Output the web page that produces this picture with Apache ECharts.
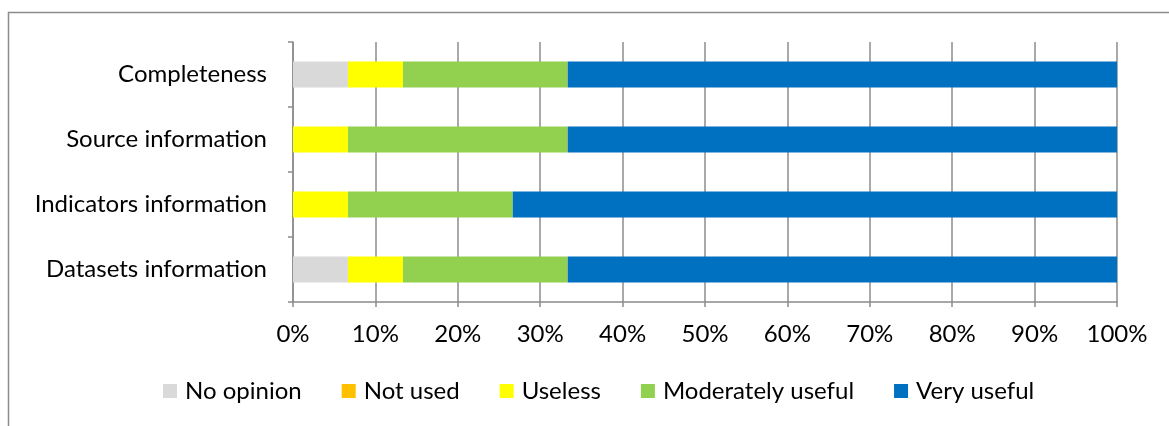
<!DOCTYPE html>
<html>
<head>
<meta charset="utf-8">
<script src="https://cdn.jsdelivr.net/npm/echarts@6/dist/echarts.min.js"></script>
<style>
  html, body { margin: 0; padding: 0; background: #fff; }
  #chart { width: 1169px; height: 426px; }
</style>
</head>
<body>
<div id="chart"></div>
<script>
// categories, bottom to top (category axis runs upward)
const categories = ['Datasets information', 'Indicators information', 'Source information', 'Completeness']

// shares in %, same order as categories
const noOpinion = [6.67, 0, 0, 6.67]
const notUsed = [0, 0, 0, 0]
const useless = [6.67, 6.67, 6.67, 6.67]
const moderatelyUseful = [20, 20, 26.67, 20]
const veryUseful = [66.67, 73.33, 66.67, 66.67]

const xTicks = [0, 10, 20, 30, 40, 50, 60, 70, 80, 90, 100]

const font = 'Lato'
const fontSize = 24
const axisGray = '#8c8c8c'

const mkSeries = (name, data, color) => ({
  name: name,
  type: 'bar',
  stack: 'total',
  data: data,
  barWidth: 26,
  itemStyle: { color: color },
  emphasis: { disabled: true }
})

const option = {
  animation: false,
  textStyle: { fontFamily: font },
  grid: {
    left: 293,
    right: 52,
    top: 42,
    bottom: 124
  },
  graphic: [
    {
      // outer frame of the chart (only left and top edges visible)
      type: 'rect',
      shape: { x: 8.5, y: 12.5, width: 1300, height: 600 },
      style: { fill: 'none', stroke: '#8c8c8c', lineWidth: 1.5 },
      silent: true
    }
  ],
  legend: {
    left: 158,
    top: 374,
    itemWidth: 14,
    itemHeight: 14,
    itemGap: 40,
    icon: 'rect',
    textStyle: { fontFamily: font, fontSize: fontSize, color: '#000', padding: [0, 0, 0, 3] },
    data: ['No opinion', 'Not used', 'Useless', 'Moderately useful', 'Very useful']
  },
  xAxis: {
    type: 'value',
    min: xTicks[0],
    max: xTicks[xTicks.length - 1],
    interval: 10,
    axisLine: { show: true, lineStyle: { color: axisGray, width: 1.5 } },
    axisTick: { show: true, length: 5, lineStyle: { color: axisGray, width: 1.5 } },
    splitLine: { show: true, lineStyle: { color: axisGray, width: 1.5 } },
    axisLabel: {
      margin: 20,
      fontFamily: font,
      fontSize: fontSize,
      color: '#000',
      formatter: (v) => v + '%'
    }
  },
  yAxis: {
    type: 'category',
    data: categories,
    axisLine: { show: true, lineStyle: { color: axisGray, width: 1.5 } },
    axisTick: { show: true, length: 5, lineStyle: { color: axisGray, width: 1.5 } },
    axisLabel: {
      margin: 26,
      fontFamily: font,
      fontSize: fontSize,
      color: '#000'
    }
  },
  series: [
    mkSeries('No opinion', noOpinion, '#d9d9d9'),
    mkSeries('Not used', notUsed, '#ffc000'),
    mkSeries('Useless', useless, '#ffff00'),
    mkSeries('Moderately useful', moderatelyUseful, '#92d050'),
    mkSeries('Very useful', veryUseful, '#0070c0')
  ]
}

const chart = echarts.init(document.getElementById('chart'))
chart.setOption(option)
</script>
</body>
</html>
